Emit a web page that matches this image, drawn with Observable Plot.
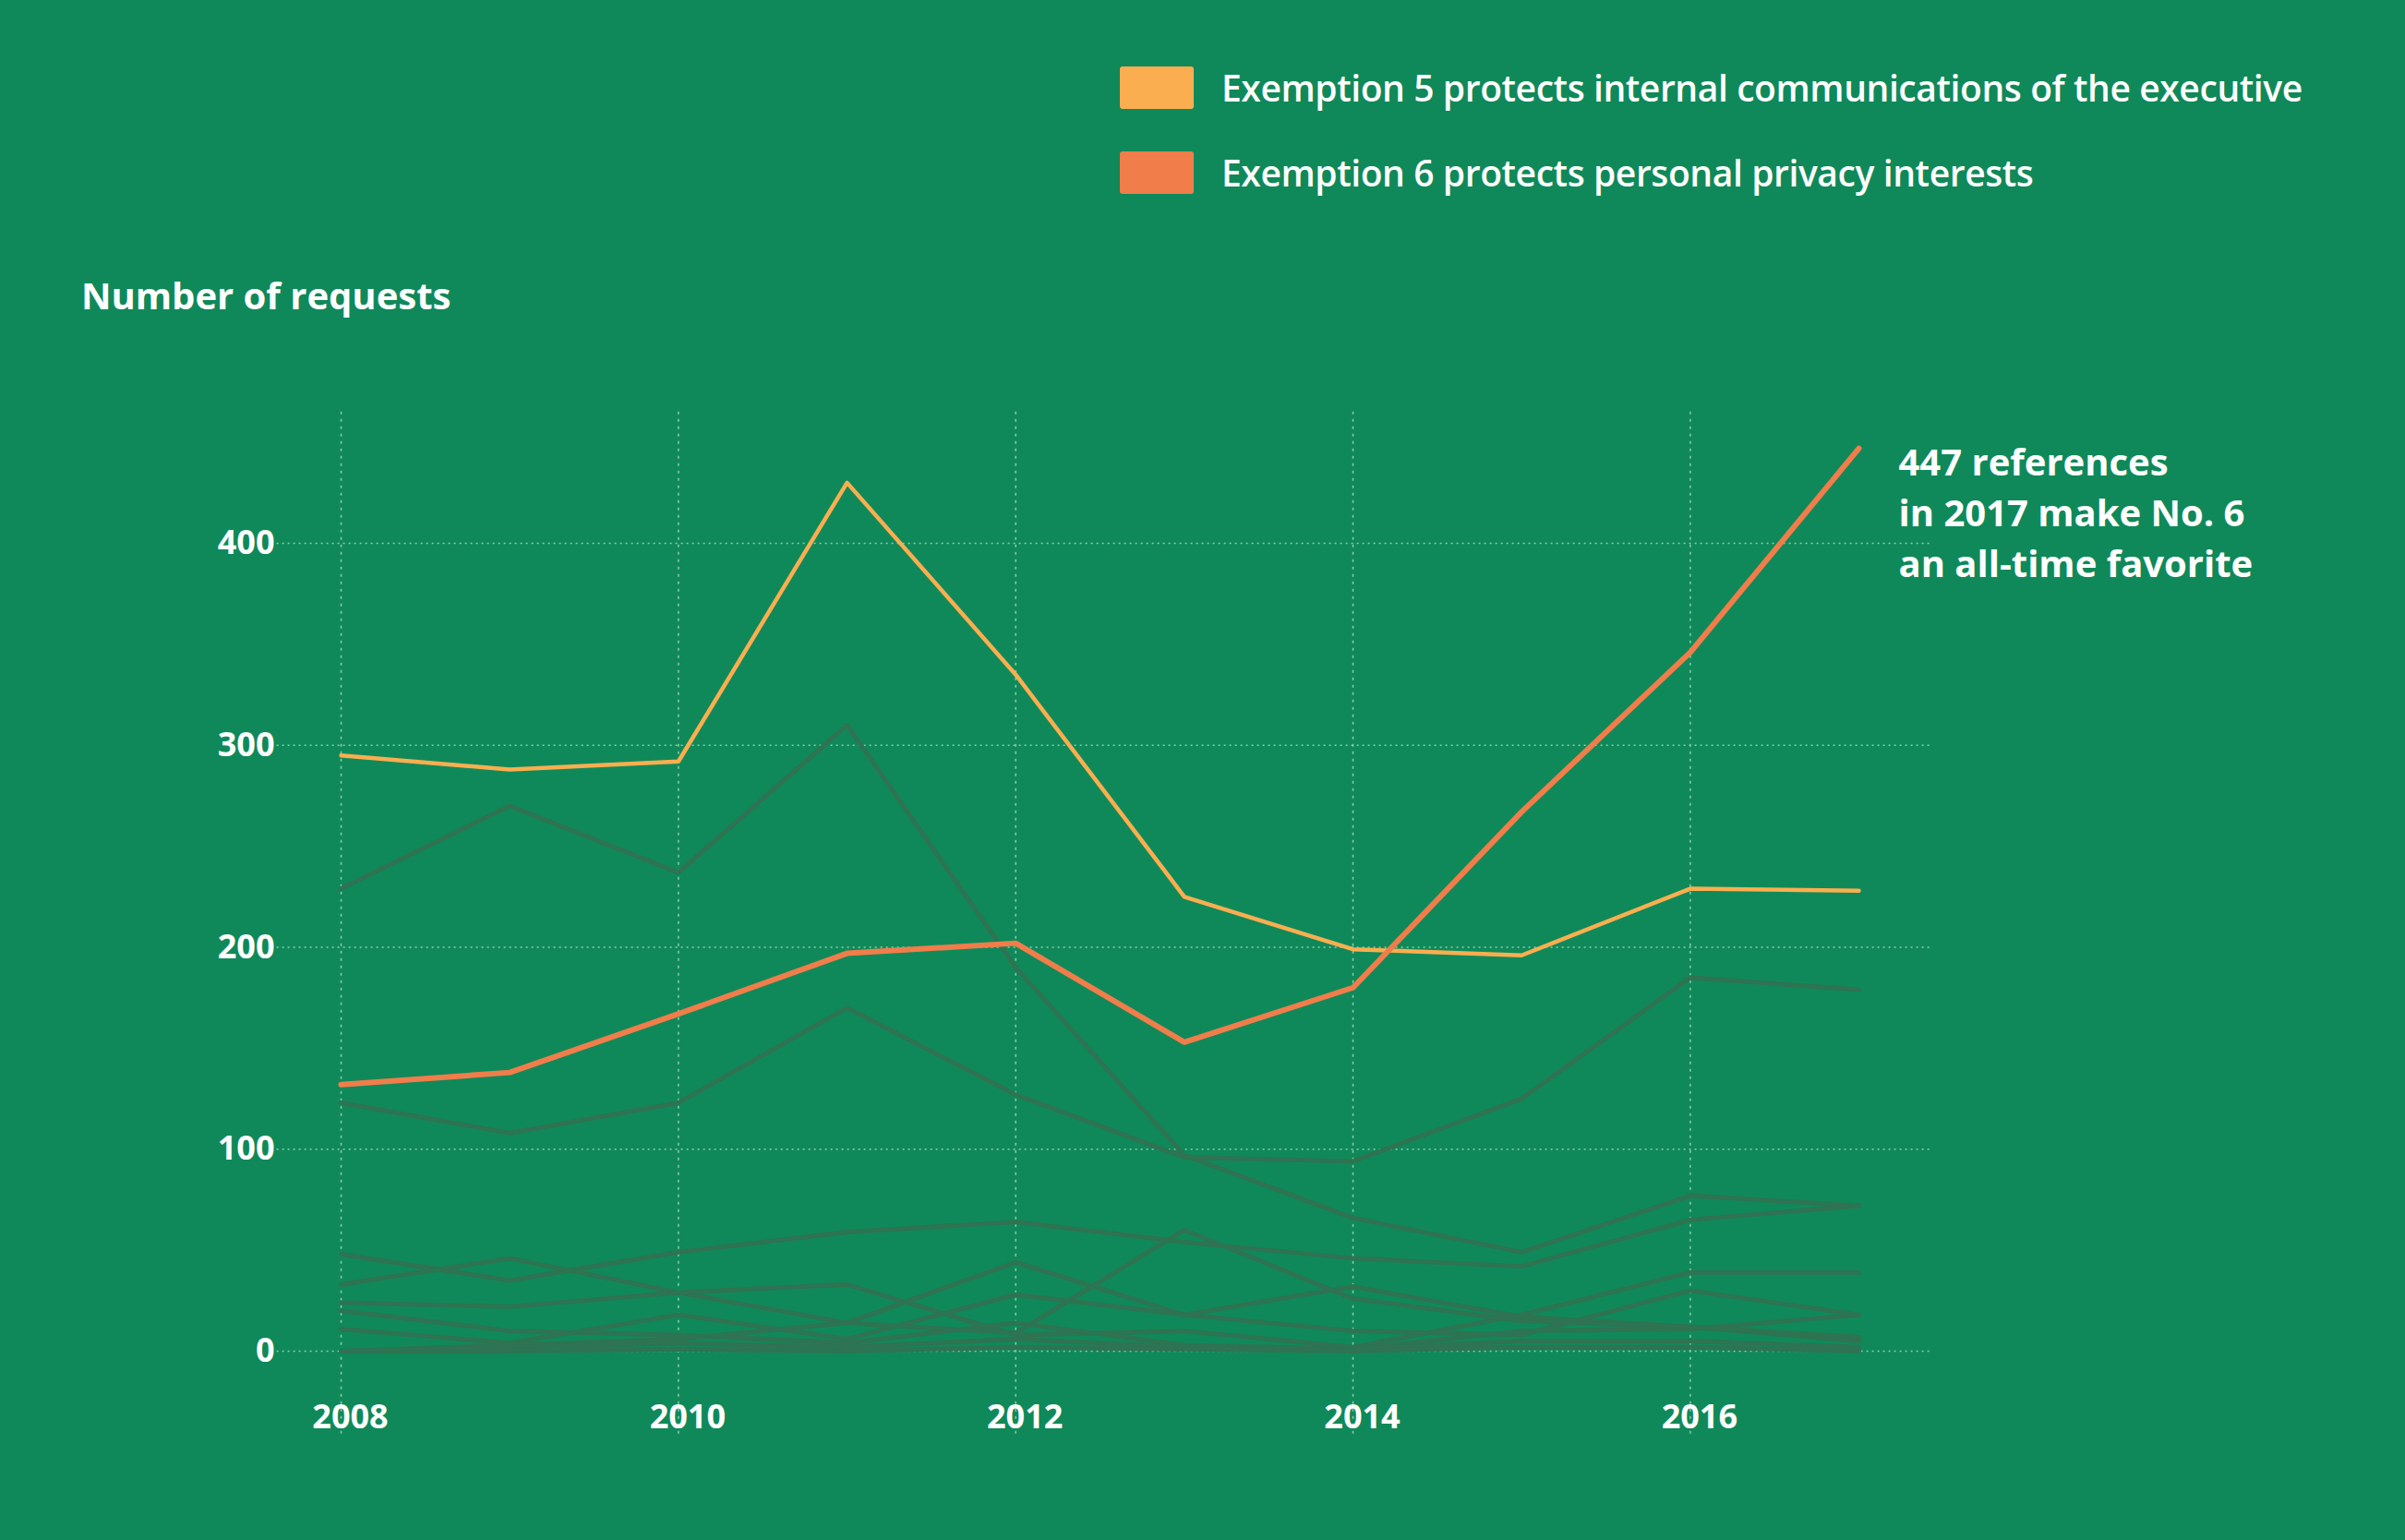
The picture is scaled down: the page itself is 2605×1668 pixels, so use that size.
<!DOCTYPE html>
<html>
<head>
<meta charset="utf-8">
<script src="https://cdn.jsdelivr.net/npm/d3@7"></script>
<script src="https://cdn.jsdelivr.net/npm/@observablehq/plot@0.6"></script>
<style>
  body { margin: 0; background: #10895a; }
  #wrap { position: relative; width: 2605px; height: 1668px; font-family: "Open Sans", sans-serif; color: #fff; }
  .leg { position: absolute; left: 1213px; display: flex; align-items: center; font-size: 39px; font-weight: 600; white-space: nowrap; letter-spacing: -0.4px; }
  .sw { width: 80px; height: 46px; margin-right: 30px; border-radius: 3px; }
  #title { position: absolute; left: 88px; top: 292px; font-size: 40px; font-weight: 700; }
  #chart { position: absolute; left: 0; top: 0; }
</style>
</head>
<body>
<div id="wrap">
  <div id="chart"></div>
  <div class="leg" style="top:68px"><div class="sw" style="background:#fbae4f"></div>Exemption 5 protects internal communications of the executive</div>
  <div class="leg" style="top:160px"><div class="sw" style="background:#f07d4a"></div>Exemption 6 protects personal privacy interests</div>
  <div id="title">Number of requests</div>
</div>
<script>
const years = [2008, 2009, 2010, 2011, 2012, 2013, 2014, 2015, 2016, 2017]
const exemption5 = [295, 288, 292, 430, 335, 225, 199, 196, 229, 228]
const exemption6 = [132, 138, 167, 197, 202, 153, 180, 267, 346, 447]

// other exemptions, grey in the background
const others = [
  [229, 270, 237, 310, 190, 97, 66, 49, 77, 72],
  [123, 108, 123, 170, 127, 96, 94, 125, 185, 179],
  [48, 35, 49, 59, 64, 54, 46, 42, 65, 72],
  [33, 46, 29, 14, 44, 18, 32, 17, 12, 5],
  [24, 22, 29, 33, 8, 10, 2, 18, 39, 39],
  [20, 10, 8, 4, 14, 3, 1, 10, 11, 18],
  [11, 4, 18, 6, 28, 18, 10, 8, 30, 18],
  [0, 3, 6, 14, 9, 60, 26, 15, 12, 7],
  [0, 2, 4, 2, 6, 2, 1, 5, 5, 2],
  [0, 0, 1, 0, 2, 1, 0, 2, 2, 0]
]
const yTicks = [0, 100, 200, 300, 400]
const xTicks = [2008, 2010, 2012, 2014, 2016]

const greyRows = others.flatMap((s, i) => s.map((v, j) => ({year: years[j], value: v, series: i})))
const rows5 = years.map((y, i) => ({year: y, value: exemption5[i]}))
const rows6 = years.map((y, i) => ({year: y, value: exemption6[i]}))

const chart = Plot.plot({
  width: 2605,
  height: 1668,
  style: {background: "transparent", fontFamily: "Open Sans, sans-serif"},
  x: {domain: [2008, 2017], range: [369, 2013], axis: null},
  y: {domain: [0, 400], range: [1463, 588], axis: null},
  marks: [
    Plot.ruleX(xTicks, {y1: -41, y2: 467, stroke: "#8fcaa8", strokeWidth: 1.5, strokeDasharray: "3,5"}),
    Plot.ruleY(yTicks, {x1: 2007.62, x2: 2017.42, stroke: "#8fcaa8", strokeWidth: 1.5, strokeDasharray: "2,4"}),
    Plot.line(greyRows, {x: "year", y: "value", z: "series", stroke: "#2e7352", strokeWidth: 5}),
    Plot.line(rows5, {x: "year", y: "value", stroke: "#fbae4f", strokeWidth: 4.5}),
    Plot.line(rows6, {x: "year", y: "value", stroke: "#f07d4a", strokeWidth: 6}),
    Plot.text(yTicks, {x: 2008, y: d => d, text: d => String(d), dx: -72, textAnchor: "end", fill: "#fff", fontSize: 36, fontWeight: 700}),
    Plot.text(xTicks, {x: d => d, y: 0, text: d => String(d), dy: 72, fill: "#fff", fontSize: 36, fontWeight: 700, dx: 10}),
    Plot.text([{year: 2017, value: 447}], {
      x: "year", y: "value", text: () => "447 references\nin 2017 make No. 6\nan all-time favorite",
      dx: 43, dy: -10, textAnchor: "start", lineAnchor: "top", lineHeight: 1.38,
      fill: "#fff", fontSize: 40, fontWeight: 700
    })
  ]
})
d3.select("#chart").append(() => chart)
</script>
</body>
</html>
